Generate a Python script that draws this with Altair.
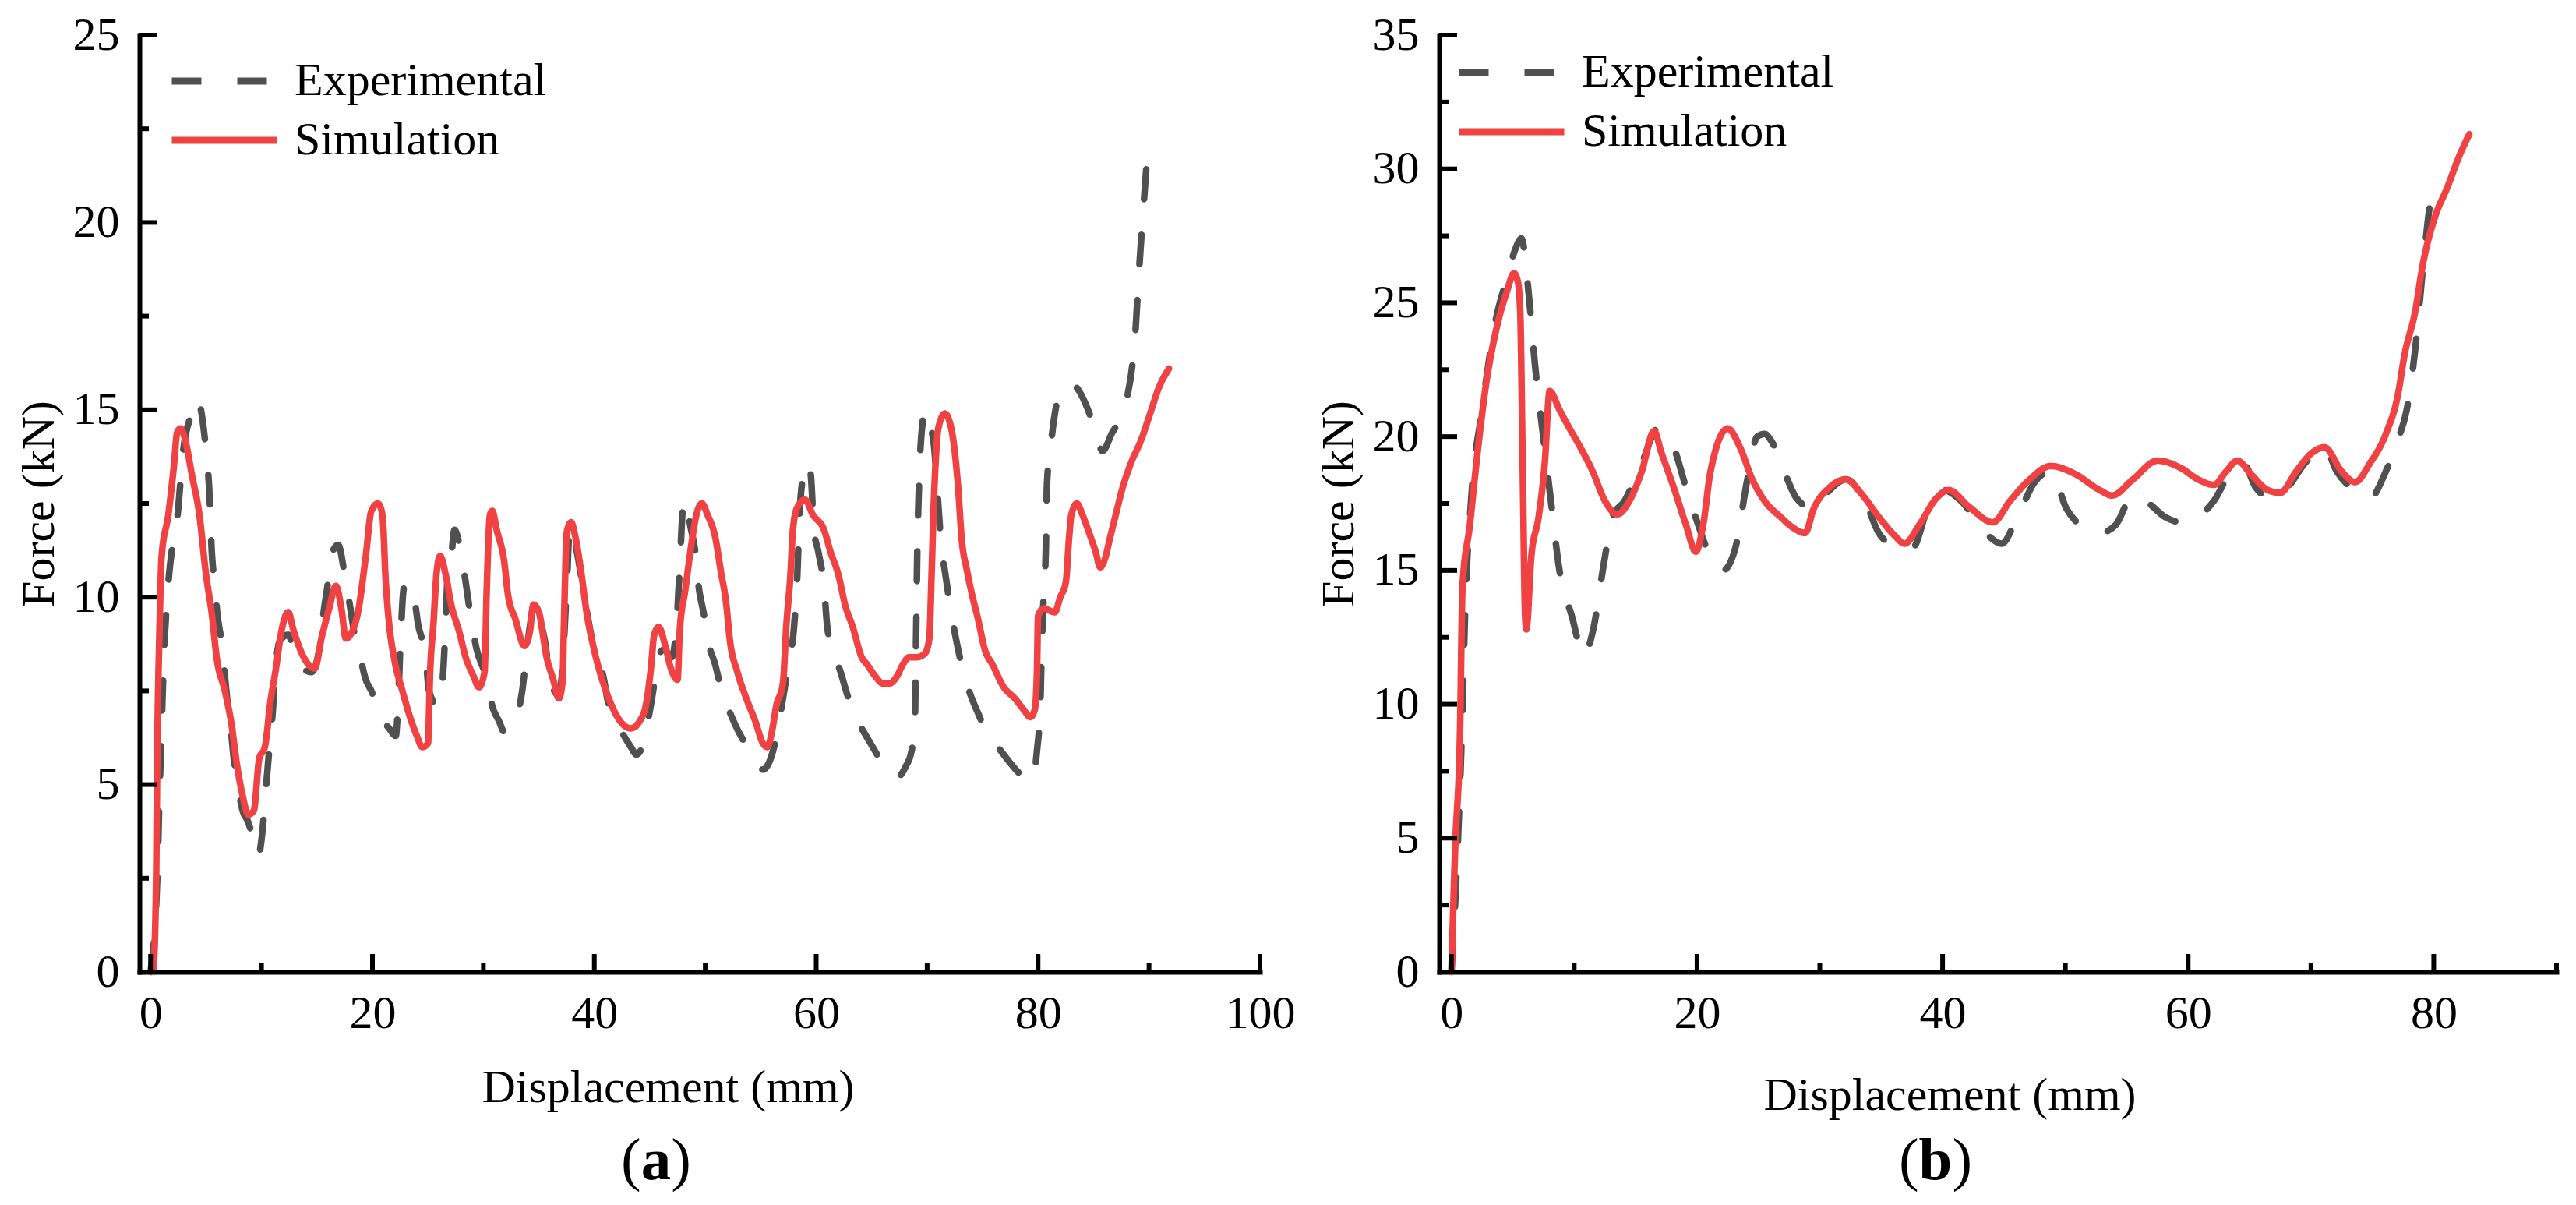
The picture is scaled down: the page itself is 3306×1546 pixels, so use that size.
import altair as alt
import pandas as pd

# ---------------- data ----------------
SERIES = ["Experimental", "Simulation"]

# panel (a)
a_exp_x = [0, 0.6, 0.8, 1.0, 1.2, 1.5, 1.7, 2.1, 2.4, 2.7, 2.9, 3.7, 4.2, 4.7, 5.0, 5.3, 5.5, 5.8, 6.0, 6.4,
           6.9, 7.2, 7.5, 7.8, 8.3, 8.8, 9.3, 9.7, 10.1, 10.4, 10.6, 11.0, 11.3, 11.6, 12.4, 12.9, 13.4, 14.5, 15.2, 15.6,
           15.9, 16.4, 16.9, 17.5, 17.9, 18.4, 18.9, 19.4, 19.9, 20.4, 20.8, 21.5, 22.1, 22.3, 22.5, 22.8, 23.0, 23.8, 24.1, 24.8,
           25.1, 25.9, 26.3, 26.6, 26.8, 27.1, 27.4, 27.9, 28.3, 28.8, 29.4, 30.1, 30.9, 31.4, 31.9, 32.5, 33.0, 33.5, 34.0, 34.7,
           35.2, 35.5, 36.0, 36.7, 37.0, 37.5, 37.8, 38.5, 39.1, 40.0, 40.8, 41.3, 42.3, 43.3, 43.8, 44.3, 44.9, 45.4, 45.7, 46.3,
           47.0, 47.5, 47.7, 48.0, 48.3, 48.6, 49.1, 49.4, 49.9, 50.2, 50.9, 51.4, 52.4, 53.4, 54.4, 55.2, 55.9, 56.5, 57.0, 57.5,
           58.0, 58.3, 58.5, 58.8, 59.2, 59.5, 59.8, 60.2, 60.7, 61.0, 61.5, 62.2, 62.8, 63.5, 64.3, 65.3, 66.3, 67.3, 68.1, 68.6,
           68.9, 69.0, 69.1, 69.3, 69.6, 69.8, 70.1, 70.6, 71.0, 71.3, 71.6, 71.9, 72.4, 72.8, 73.1, 73.9, 74.6, 75.2, 75.9, 76.9,
           77.7, 78.7, 79.5, 79.9, 80.2, 80.3, 80.5, 80.7, 80.8, 81.2, 81.8, 82.5, 83.0, 83.7, 84.5, 85.2, 85.8, 86.7, 87.3, 88.0,
           88.5, 88.8, 89.1, 89.5, 89.8, 90.0]
a_exp_y = [0, 2.5, 4.7, 6.6, 8.4, 10.0, 10.7, 11.6, 12.1, 13.1, 13.8, 14.9, 15.3, 14.7, 13.9, 12.8, 11.3, 10.3, 9.6, 8.8,
           7.3, 6.6, 5.7, 5.1, 4.3, 4.0, 3.5, 3.1, 3.8, 4.9, 5.6, 6.9, 8.2, 8.8, 9.0, 8.6, 8.2, 8.0, 8.6, 9.6,
           10.2, 11.2, 11.4, 10.6, 9.9, 9.0, 8.4, 7.8, 7.5, 7.1, 6.8, 6.5, 6.3, 7.1, 8.6, 10.2, 10.4, 9.9, 9.3, 8.4,
           7.5, 7.1, 7.7, 9.3, 10.7, 11.1, 11.8, 11.3, 10.6, 9.6, 8.6, 8.0, 7.0, 6.7, 6.4, 6.5, 6.8, 7.5, 8.8, 9.9,
           9.3, 8.9, 7.9, 7.4, 7.7, 10.2, 11.9, 11.1, 10.0, 8.6, 7.9, 7.1, 6.5, 6.0, 5.8, 6.0, 6.8, 7.7, 8.4, 8.6,
           8.4, 9.7, 10.8, 12.4, 12.6, 12.0, 11.2, 10.3, 9.5, 8.9, 8.2, 7.6, 6.8, 6.2, 5.8, 5.4, 5.7, 6.4, 7.3, 8.2,
           9.2, 10.6, 12.2, 13.2, 13.6, 13.3, 11.8, 11.2, 10.3, 9.2, 8.6, 8.0, 7.4, 6.8, 6.4, 5.9, 5.4, 5.2, 5.5, 5.9,
           6.8, 8.8, 11.0, 13.3, 14.7, 15.0, 14.7, 14.1, 12.5, 11.3, 10.7, 10.1, 9.2, 8.6, 8.2, 7.4, 6.9, 6.5, 6.2, 5.8,
           5.5, 5.2, 5.1, 5.9, 7.1, 8.3, 10.0, 11.3, 13.0, 14.2, 15.3, 15.6, 15.7, 15.5, 15.0, 14.4, 13.9, 14.4, 14.7, 15.3,
           16.2, 17.2, 18.7, 20.4, 21.6, 22.2]

a_sim_x = [0.26, 0.5, 0.6, 0.8, 1.0, 1.6, 2.1, 2.4, 2.7, 3.2, 3.7, 4.4, 5.0, 5.5, 6.0, 6.7, 7.3, 7.8, 8.3, 8.8,
           9.3, 9.8, 10.3, 10.8, 11.3, 11.8, 12.4, 12.9, 13.8, 14.8, 15.4, 16.1, 16.7, 17.2, 17.6, 18.2, 18.7, 19.4, 19.9, 20.5,
           20.9, 21.2, 21.5, 22.0, 22.7, 23.5, 24.0, 24.5, 25.0, 25.2, 25.5, 25.8, 26.1, 26.6, 27.1, 27.8, 28.4, 29.1, 29.6, 30.1,
           30.3, 30.6, 30.8, 31.2, 31.9, 32.2, 32.9, 33.7, 34.2, 34.5, 35.0, 35.7, 36.3, 36.8, 37.15, 37.25, 37.35, 37.5, 37.9, 38.3,
           38.8, 39.3, 39.9, 40.6, 41.3, 41.9, 42.6, 43.3, 44.1, 44.7, 45.1, 45.4, 45.8, 46.4, 46.9, 47.5, 47.7, 48.2, 48.7, 49.2,
           49.7, 50.2, 50.9, 51.4, 51.9, 52.2, 52.9, 53.7, 54.5, 55.2, 55.6, 56.0, 56.4, 57.0, 57.3, 57.7, 57.9, 58.3, 59.0, 59.7,
           60.7, 61.3, 62.0, 62.6, 63.3, 64.1, 64.6, 65.3, 66.0, 66.6, 67.3, 67.8, 68.4, 69.1, 69.8, 70.2, 70.4, 70.6, 70.8, 71.0,
           71.6, 72.1, 72.4, 72.8, 73.1, 73.6, 74.1, 74.6, 75.2, 75.9, 76.9, 77.9, 78.7, 79.3, 79.7, 79.9, 80.0, 80.5, 81.5, 82.0,
           82.5, 82.8, 83.0, 83.5, 84.0, 84.5, 85.2, 85.6, 86.0, 86.5, 87.0, 87.6, 88.4, 89.3, 90.1, 90.9, 91.8]
a_sim_y = [0, 2.5, 5.8, 9.1, 11.1, 12.2, 13.5, 14.4, 14.5, 14.1, 13.3, 12.2, 10.6, 9.6, 8.3, 7.5, 6.6, 5.5, 4.7, 4.2,
           4.3, 5.7, 6.0, 7.2, 8.1, 9.1, 9.6, 9.1, 8.4, 8.1, 8.9, 9.7, 10.3, 9.7, 8.9, 9.1, 9.6, 11.1, 12.3, 12.5,
           12.2, 10.4, 9.3, 8.3, 7.5, 6.7, 6.3, 6.0, 6.1, 8.0, 9.3, 10.7, 11.1, 10.6, 9.8, 9.1, 8.4, 7.9, 7.6, 8.0,
           10.2, 12.2, 12.3, 11.8, 10.9, 10.1, 9.4, 8.7, 9.1, 9.8, 9.6, 8.4, 7.8, 7.3, 7.8, 9.1, 10.3, 11.7, 12.0, 11.6,
           10.7, 9.6, 8.7, 7.9, 7.3, 6.9, 6.6, 6.5, 6.7, 7.2, 8.1, 9.0, 9.2, 8.7, 8.1, 7.8, 9.1, 10.2, 11.3, 12.2,
           12.5, 12.2, 11.6, 10.7, 9.8, 8.9, 8.0, 7.3, 6.7, 6.1, 6.0, 6.4, 7.1, 7.7, 9.2, 10.7, 11.8, 12.4, 12.6, 12.2,
           11.8, 11.2, 10.6, 9.8, 9.2, 8.4, 8.2, 7.9, 7.7, 7.7, 7.9, 8.2, 8.4, 8.4, 8.5, 8.9, 10.6, 12.5, 13.8, 14.5,
           14.9, 14.6, 14.1, 12.9, 11.6, 10.7, 10.0, 9.4, 8.6, 8.2, 7.6, 7.3, 7.0, 6.8, 7.0, 8.0, 9.5, 9.7, 9.6, 10.0,
           10.4, 11.6, 12.2, 12.5, 12.2, 11.8, 11.2, 10.8, 11.0, 11.6, 12.2, 12.9, 13.6, 14.2, 14.9, 15.6, 16.1]

# panel (b)
b_exp_x = [0, 0.5, 0.9, 1.1, 1.6, 2.5, 3.5, 4.5, 5.2, 5.7, 6.3, 6.8, 7.5, 8.1, 8.8, 9.8, 10.8, 11.5, 12.5, 13.1,
           14.1, 15.5, 16.8, 18.1, 19.1, 20.1, 21.1, 22.1, 23.1, 24.1, 24.9, 25.5, 26.1, 27.1, 28.1, 29.5, 30.8, 32.1, 33.5, 34.8,
           36.1, 37.5, 38.8, 40.1, 41.5, 43.5, 44.8, 46.1, 47.5, 48.8, 50.1, 51.5, 52.8, 54.1, 55.5, 56.8, 58.1, 59.5, 60.8, 62.1,
           63.5, 64.5, 65.5, 66.8, 68.1, 69.5, 71.1, 72.1, 73.5, 74.8, 76.1, 77.1, 77.8, 78.5, 79.1, 79.8, 80.3]
b_exp_y = [0, 4.6, 9.8, 13.3, 17.6, 21.0, 24.1, 25.9, 27.0, 27.4, 25.3, 22.7, 19.9, 17.6, 15.0, 13.3, 11.8, 12.7, 15.5, 17.0,
           17.6, 19.0, 20.3, 19.6, 18.1, 16.7, 15.5, 15.0, 15.8, 18.4, 20.0, 20.1, 19.8, 18.7, 17.7, 17.3, 18.0, 18.4, 17.8, 16.4,
           15.9, 15.8, 17.3, 18.0, 17.6, 16.4, 16.0, 17.0, 18.3, 18.7, 17.3, 16.6, 16.4, 16.7, 17.8, 17.5, 17.0, 16.8, 17.0, 17.6,
           18.7, 19.0, 18.1, 17.7, 18.1, 19.0, 19.6, 18.7, 18.0, 17.7, 18.7, 19.9, 21.0, 23.3, 26.2, 29.0, 29.8]

b_sim_x = [0, 0.3, 0.7, 0.9, 1.5, 2.1, 2.8, 3.6, 4.5, 5.1, 5.4, 5.6, 5.8, 6.0, 6.1, 6.5, 7.1, 7.6, 8.0, 8.8,
           9.5, 10.5, 11.5, 12.5, 13.5, 14.5, 15.5, 16.5, 17.1, 18.1, 19.1, 19.9, 20.5, 21.1, 22.5, 23.5, 24.5, 25.5, 26.8, 27.8,
           28.8, 29.5, 30.8, 32.1, 33.5, 34.8, 36.1, 36.9, 38.1, 39.5, 40.5, 42.1, 44.1, 45.5, 47.1, 48.8, 50.8, 52.8, 53.8, 55.5,
           57.5, 59.5, 60.8, 62.1, 63.1, 64.0, 65.1, 66.5, 67.5, 68.8, 70.1, 71.1, 72.5, 73.6, 74.8, 76.1, 77.1, 77.6, 78.5, 79.1,
           80.1, 81.1, 82.1, 82.9]
b_sim_y = [0, 4.6, 9.0, 14.4, 16.7, 19.3, 21.9, 23.9, 25.4, 26.1, 25.8, 24.7, 19.0, 13.3, 12.8, 15.5, 17.0, 19.0, 21.7, 21.0,
           20.4, 19.6, 18.7, 17.6, 17.1, 17.6, 18.7, 20.2, 19.4, 18.1, 16.7, 15.7, 16.7, 18.7, 20.3, 19.6, 18.4, 17.6, 17.0, 16.6,
           16.4, 17.3, 18.1, 18.4, 17.8, 17.0, 16.3, 16.0, 16.7, 17.7, 18.0, 17.4, 16.8, 17.6, 18.4, 18.9, 18.6, 18.0, 17.8, 18.4,
           19.1, 18.8, 18.4, 18.2, 18.7, 19.1, 18.6, 18.0, 17.9, 18.7, 19.4, 19.6, 18.7, 18.3, 19.0, 20.1, 21.6, 23.0, 24.7, 26.4,
           28.2, 29.3, 30.5, 31.3]

# axis tick values
a_x_major = [0, 20, 40, 60, 80, 100]
a_x_minor = [10, 30, 50, 70, 90]
a_y_major = [0, 5, 10, 15, 20, 25]
a_y_minor = [2.5, 7.5, 12.5, 17.5, 22.5]
b_x_major = [0, 20, 40, 60, 80]
b_x_minor = [10, 30, 50, 70, 90]
b_y_major = [0, 5, 10, 15, 20, 25, 30, 35]
b_y_minor = [2.5, 7.5, 12.5, 17.5, 22.5, 27.5, 32.5]

# ---------------- style ----------------
FONT = "Liberation Serif"
FS = 60
COLORS = ["#505050", "#F04242"]
DASHES = [[38, 46], [1, 0]]
H = 1202


def frame(ex, ey, sx, sy):
    d1 = pd.DataFrame({"x": ex, "y": ey, "series": SERIES[0], "i": range(len(ex))})
    d2 = pd.DataFrame({"x": sx, "y": sy, "series": SERIES[1], "i": range(len(sx))})
    return pd.concat([d1, d2], ignore_index=True)


def panel(df, xmax, ymax, W, xmaj, xmin_, ymaj, ymin_, leg_x, leg_y, tx, ty, letter, lx, lw):
    xs = alt.Scale(domain=[-1, xmax], nice=False, zero=False)
    ys = alt.Scale(domain=[0, ymax], nice=False, zero=False)
    xaxis = alt.Axis(
        values=xmaj, format="d", title="Displacement (mm)", grid=False,
        ticks=False, tickSize=0, labelFlush=False, labelOverlap=False,
        labelPadding=24, labelFont=FONT, labelFontSize=FS, labelColor="black",
        domainColor="black", domainWidth=6, domainCap="square",
        titleFont=FONT, titleFontSize=FS, titleFontWeight="normal", titleColor="black",
        titleX=tx, titleY=ty, titleBaseline="alphabetic", titleAlign="center")
    yaxis = alt.Axis(
        values=ymaj, format="d", title="Force (kN)", grid=False,
        ticks=False, tickSize=0, labelOverlap=False, labelPadding=26,
        labelFont=FONT, labelFontSize=FS, labelColor="black",
        domainColor="black", domainWidth=6, domainCap="square",
        titleFont=FONT, titleFontSize=FS, titleFontWeight="normal", titleColor="black",
        titleX=-129, titleY=H / 2, titleAngle=270, titleBaseline="middle", titleAlign="center")
    leg = alt.Legend(title=None, orient="none", legendX=leg_x, legendY=leg_y,
                     symbolType="stroke", symbolSize=135 * 135, symbolStrokeWidth=9,
                     labelFont=FONT, labelFontSize=FS, labelColor="black", labelLimit=0,
                     labelOffset=18, rowPadding=16, clipHeight=60, padding=0)
    lines = alt.Chart(df).mark_line(strokeWidth=8.5, interpolate="monotone",
                                    strokeCap="round", strokeJoin="round").encode(
        x=alt.X("x:Q", scale=xs, axis=xaxis, title="Displacement (mm)"),
        y=alt.Y("y:Q", scale=ys, axis=yaxis, title="Force (kN)"),
        color=alt.Color("series:N", scale=alt.Scale(domain=SERIES, range=COLORS), legend=leg),
        strokeDash=alt.StrokeDash("series:N", scale=alt.Scale(domain=SERIES, range=DASHES), legend=leg),
        order="i:Q",
    )

    def xticks(vals, L):
        return alt.Chart(pd.DataFrame({"v": vals})).mark_rule(color="black", strokeWidth=6).encode(
            x=alt.X("v:Q", scale=xs, axis=xaxis, title="Displacement (mm)"),
            y=alt.value(H), y2=alt.value(H - L))

    def yticks(vals, L):
        return alt.Chart(pd.DataFrame({"v": vals})).mark_rule(color="black", strokeWidth=6).encode(
            y=alt.Y("v:Q", scale=ys, axis=yaxis, title="Force (kN)"),
            x=alt.value(0), x2=alt.value(L))

    def txt(s, x, align, weight):
        return alt.Chart(pd.DataFrame({"t": [s]})).mark_text(
            font=FONT, fontSize=77, fontWeight=weight, align=align, baseline="alphabetic", color="black"
        ).encode(text="t:N", x=alt.value(x), y=alt.value(H + 266))

    lab = (txt("(", lx - lw / 2, "right", "normal") + txt(letter, lx, "center", "bold")
           + txt(")", lx + lw / 2, "left", "normal"))

    return alt.layer(lines, xticks(xmaj, 23), xticks(xmin_, 12), yticks(ymaj, 23), yticks(ymin_, 12),
                     lab).properties(width=W, height=H)


left = panel(frame(a_exp_x, a_exp_y, a_sim_x, a_sim_y), 100, 25, 1438,
             a_x_major, a_x_minor, a_y_major, a_y_minor, 37, 29, 678, 166, "a", 663, 38.5)
right = panel(frame(b_exp_x, b_exp_y, b_sim_x, b_sim_y), 90, 35, 1434,
              b_x_major, b_x_minor, b_y_major, b_y_minor, 21, 18, 655, 176, "b", 637, 42.8)

chart = alt.hconcat(left, right, spacing=230, bounds="flush").resolve_scale(
    x="independent", y="independent", color="independent", strokeDash="independent"
).resolve_legend(color="independent", strokeDash="independent").properties(
    padding={"left": 12, "top": 7, "right": 5, "bottom": 5}, background="white"
).configure_view(stroke=None)

chart.save("out.html", embed_options={"renderer": "svg", "actions": False})
